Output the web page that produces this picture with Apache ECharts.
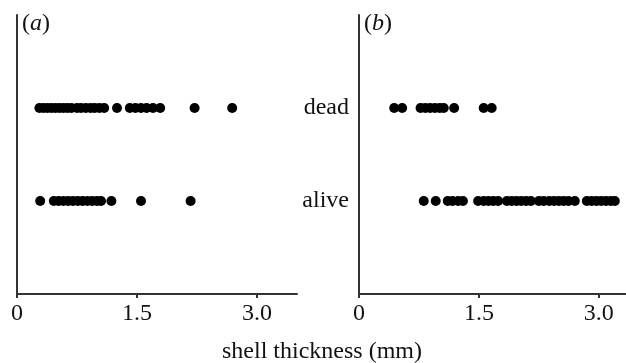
<!DOCTYPE html>
<html>
<head>
<meta charset="utf-8">
<script src="https://cdn.jsdelivr.net/npm/echarts@6/dist/echarts.min.js"></script>
<style>
  html, body { margin: 0; padding: 0; background: #fff; }
  #chart { width: 626px; height: 363px; }
</style>
</head>
<body>
<div id="chart"></div>
<script>
// shell thickness (mm)
const deadA = [0.28, 0.33, 0.38, 0.43, 0.48, 0.53, 0.58, 0.63, 0.68, 0.75, 0.8, 0.86, 0.92, 0.97, 1.03, 1.09,
  1.25, 1.41, 1.48, 1.55, 1.62, 1.7, 1.79, 2.22, 2.69];
const aliveA = [0.29, 0.46, 0.52, 0.58, 0.64, 0.7, 0.76, 0.82, 0.88, 0.94, 1.0, 1.05, 1.18, 1.55, 2.17];
const deadB = [0.44, 0.54, 0.77, 0.83, 0.89, 0.95, 1.01, 1.06, 1.19, 1.56, 1.66];
const aliveB = [0.81, 0.96, 1.11, 1.17, 1.24, 1.3, 1.49, 1.56, 1.62, 1.68, 1.74, 1.85, 1.91, 1.97, 2.03, 2.09, 2.15,
  2.25, 2.31, 2.38, 2.44, 2.5, 2.56, 2.62, 2.7, 2.85, 2.91, 2.97, 3.03, 3.09, 3.15, 3.2];
const rows = ['', 'alive', 'dead', ''];
const xTicks = [0, 1.5, 3.0];

const font = 'Liberation Serif';
const axisColor = '#333';

// 每个点放到对应的行
const pts = (arr, row) => arr.map(v => [v, row]);

const xAxisBase = (gridIndex, max) => ({
  type: 'value',
  gridIndex,
  min: 0,
  max,
  splitLine: {show: false},
  axisLine: {lineStyle: {color: axisColor, width: 2}},
  axisTick: {show: true, length: 4, customValues: xTicks, lineStyle: {color: axisColor, width: 2}},
  axisLabel: {
    customValues: xTicks,
    margin: 8,
    fontFamily: font,
    fontSize: 24,
    color: '#111',
    formatter: v => v === 0 ? '0' : v.toFixed(1)
  }
});

const yAxisBase = (gridIndex, showLabel) => ({
  type: 'value',
  gridIndex,
  min: 0,
  max: 3,
  interval: 1,
  splitLine: {show: false},
  axisTick: {show: false},
  axisLine: {show: true, lineStyle: {color: axisColor, width: 2}},
  axisLabel: {
    show: showLabel,
    margin: 10,
    fontFamily: font,
    fontSize: 24,
    color: '#111',
    formatter: v => rows[v] || ''
  }
});

const dot = (xIdx, data) => ({
  type: 'scatter',
  xAxisIndex: xIdx,
  yAxisIndex: xIdx,
  symbol: 'circle',
  symbolSize: 10,
  itemStyle: {color: '#000', opacity: 1},
  data
});

const chart = echarts.init(document.getElementById('chart'));
chart.setOption({
  animation: false,
  grid: [
    {left: 17, right: 329, top: 15, bottom: 69},
    {left: 359, right: 0, top: 15, bottom: 69}
  ],
  xAxis: [xAxisBase(0, 3.5), xAxisBase(1, 3.34)],
  yAxis: [yAxisBase(0, false), yAxisBase(1, true)],
  series: [
    dot(0, pts(deadA, 2)),
    dot(0, pts(aliveA, 1)),
    dot(1, pts(deadB, 2)),
    dot(1, pts(aliveB, 1))
  ],
  graphic: [
    {
      type: 'text', left: 22, top: 12,
      style: {
        text: '{p|(}{i|a}{p|)}',
        rich: {
          p: {fontFamily: font, fontSize: 24, fill: '#111'},
          i: {fontFamily: font, fontSize: 24, fontStyle: 'italic', fill: '#111'}
        }
      }
    },
    {
      type: 'text', left: 364, top: 12,
      style: {
        text: '{p|(}{i|b}{p|)}',
        rich: {
          p: {fontFamily: font, fontSize: 24, fill: '#111'},
          i: {fontFamily: font, fontSize: 24, fontStyle: 'italic', fill: '#111'}
        }
      }
    },
    {
      type: 'text', x: 322, y: 352,
      style: {
        text: 'shell thickness (mm)',
        fontFamily: font, fontSize: 24, fill: '#111',
        textAlign: 'center', textVerticalAlign: 'middle'
      }
    }
  ]
});
</script>
</body>
</html>
